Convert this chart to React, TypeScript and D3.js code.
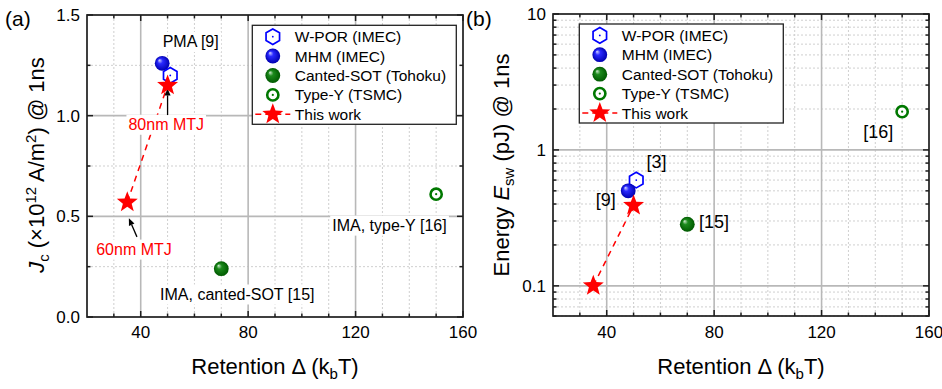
import React from 'react';
import * as d3 from 'd3';

// ---------- data ----------
const seriesNames = ['W-POR (IMEC)', 'MHM (IMEC)', 'Canted-SOT (Tohoku)', 'Type-Y (TSMC)', 'This work'];
const seriesTypes = ['hex', 'blueSphere', 'greenSphere', 'ring', 'star'];

const retentionWPOR = [51];
const jcWPOR = [1.2];
const energyWPOR = [0.6];

const retentionMHM = [48];
const jcMHM = [1.26];
const energyMHM = [0.5];

const retentionCanted = [70];
const jcCanted = [0.24];
const energyCanted = [0.284];

const retentionTypeY = [150];
const jcTypeY = [0.61];
const energyTypeY = [1.91];

const retentionThisWork = [35, 50];
const jcThisWork = [0.57, 1.15];
const energyThisWork = [0.1, 0.39];

const xTicks = [40, 80, 120, 160];
const xTickLabels = ['40', '80', '120', '160'];
const jcTicks = [0, 0.5, 1.0, 1.5];
const jcTickLabels = ['0.0', '0.5', '1.0', '1.5'];
const energyTicks = [0.1, 1, 10];
const energyTickLabels = ['0.1', '1', '10'];

// annotations (data coordinates)
const annotA = [
  { text: 'PMA [9]', x: 58.6, y: 1.34, color: '#000', anchor: 'middle' },
  { text: '80nm MTJ', x: 49.5, y: 0.929, color: '#ff0000', anchor: 'middle' },
  { text: '60nm MTJ', x: 37.5, y: 0.309, color: '#ff0000', anchor: 'middle' },
  { text: 'IMA, canted-SOT [15]', x: 47.2, y: 0.086, color: '#000', anchor: 'start' },
  { text: 'IMA, type-Y [16]', x: 111.3, y: 0.428, color: '#000', anchor: 'start' },
];
const arrowsA = [
  { x1: 50, y1: 1.003, x2: 50, y2: 1.135 },
  { x1: 38.6, y1: 0.398, x2: 35.6, y2: 0.49 },
];
const annotB = [
  { text: '[3]', x: 54.8, y: 0.737 },
  { text: '[9]', x: 35.9, y: 0.388 },
  { text: '[15]', x: 74.4, y: 0.267 },
  { text: '[16]', x: 135.5, y: 1.225 },
];

// ---------- helpers ----------
const FONT = "Arial, 'Liberation Sans', Helvetica, sans-serif";
const GRID_MAJOR = '#b8b8b8';
const GRID_MINOR = '#cfcfcf';
const FRAME = '#1e1e1e';

let ctx: CanvasRenderingContext2D | null = null;
function textWidth(t: string, size: number) {
  if (typeof document === 'undefined') return t.length * size * 0.55;
  if (!ctx) ctx = document.createElement('canvas').getContext('2d');
  if (!ctx) return t.length * size * 0.55;
  ctx.font = `${size}px Arial, 'Liberation Sans', sans-serif`;
  return ctx.measureText(t).width;
}

function starPath(r: number) {
  const pts: string[] = [];
  for (let i = 0; i < 10; i++) {
    const rad = i % 2 === 0 ? r : r * 0.42;
    const a = -Math.PI / 2 + (i * Math.PI) / 5;
    pts.push(`${(rad * Math.cos(a)).toFixed(2)},${(rad * Math.sin(a)).toFixed(2)}`);
  }
  return 'M' + pts.join('L') + 'Z';
}
function hexPath(r: number) {
  const pts: string[] = [];
  for (let i = 0; i < 6; i++) {
    const a = -Math.PI / 2 + (i * Math.PI) / 3;
    pts.push(`${(r * Math.cos(a)).toFixed(2)},${(r * Math.sin(a)).toFixed(2)}`);
  }
  return 'M' + pts.join('L') + 'Z';
}

function Marker({ type, x, y }: { type: string; x: number; y: number }) {
  const t = `translate(${x},${y})`;
  if (type === 'hex')
    return (
      <g transform={t}>
        <path d={hexPath(7.8)} fill="#fff" stroke="#0000ff" strokeWidth={1.7} />
        <circle r={0.9} fill="#0000ff" />
      </g>
    );
  if (type === 'blueSphere') return <circle transform={t} r={7.4} fill="url(#gBlue)" />;
  if (type === 'greenSphere') return <circle transform={t} r={7.4} fill="url(#gGreen)" />;
  if (type === 'ring')
    return (
      <g transform={t}>
        <circle r={5.6} fill="#fff" stroke="#007800" strokeWidth={2.6} />
        <circle r={1.1} fill="#007800" />
      </g>
    );
  return <path transform={t} d={starPath(11)} fill="#ff0000" />;
}

type Scale = (v: number) => number;

function Legend({ x, y }: { x: number; y: number }) {
  const rows = [11.4, 30.7, 50.2, 69.6, 89];
  return (
    <g transform={`translate(${x},${y})`}>
      <rect x={0} y={0} width={204} height={99} fill="#fff" stroke="#222" strokeWidth={1.3} />
      {seriesNames.map((name, i) => (
        <g key={name}>
          {seriesTypes[i] === 'star' && (
            <line x1={3} x2={38} y1={rows[i]} y2={rows[i]} stroke="#ff0000" strokeWidth={1.5} strokeDasharray="6,4" />
          )}
          <Marker type={seriesTypes[i]} x={20.5} y={rows[i]} />
          <text x={42.5} y={rows[i] + 5.6} fontSize={15.5} fontFamily={FONT} fill="#000">
            {name}
          </text>
        </g>
      ))}
    </g>
  );
}

function Frame({
  x, y, left, right, top, bottom, xMinor, yMajorGrid, yMinorGrid,
}: {
  x: Scale; y: Scale; left: number; right: number; top: number; bottom: number;
  xMinor: number[]; yMajorGrid: number[]; yMinorGrid: number[];
}) {
  const xMajorGrid = [40, 80, 120];
  return (
    <g>
      {xMinor.filter((v) => !xMajorGrid.includes(v)).map((v) => (
        <line key={'vx' + v} x1={x(v)} x2={x(v)} y1={top} y2={bottom} stroke={GRID_MINOR} strokeWidth={1} strokeDasharray="2,2" />
      ))}
      {yMinorGrid.map((v) => (
        <line key={'hy' + v} x1={left} x2={right} y1={y(v)} y2={y(v)} stroke={GRID_MINOR} strokeWidth={1} strokeDasharray="2,2" />
      ))}
      {xMajorGrid.map((v) => (
        <line key={'VX' + v} x1={x(v)} x2={x(v)} y1={top} y2={bottom} stroke={GRID_MAJOR} strokeWidth={1.6} />
      ))}
      {yMajorGrid.map((v) => (
        <line key={'HY' + v} x1={left} x2={right} y1={y(v)} y2={y(v)} stroke={GRID_MAJOR} strokeWidth={1.6} />
      ))}
    </g>
  );
}

function Ticks({
  x, y, left, right, top, bottom, xMajor, xMinor, yMajor, yMinor,
}: {
  x: Scale; y: Scale; left: number; right: number; top: number; bottom: number;
  xMajor: number[]; xMinor: number[]; yMajor: number[]; yMinor: number[];
}) {
  const M = 6, m = 3.5;
  const els: React.ReactNode[] = [];
  xMajor.forEach((v) => {
    els.push(<line key={'xb' + v} x1={x(v)} x2={x(v)} y1={bottom} y2={bottom - M} />);
    els.push(<line key={'xt' + v} x1={x(v)} x2={x(v)} y1={top} y2={top + M} />);
  });
  xMinor.forEach((v) => {
    els.push(<line key={'xbm' + v} x1={x(v)} x2={x(v)} y1={bottom} y2={bottom - m} />);
    els.push(<line key={'xtm' + v} x1={x(v)} x2={x(v)} y1={top} y2={top + m} />);
  });
  yMajor.forEach((v) => {
    els.push(<line key={'yl' + v} x1={left} x2={left + M} y1={y(v)} y2={y(v)} />);
    els.push(<line key={'yr' + v} x1={right} x2={right - M} y1={y(v)} y2={y(v)} />);
  });
  yMinor.forEach((v) => {
    els.push(<line key={'ylm' + v} x1={left} x2={left + m} y1={y(v)} y2={y(v)} />);
    els.push(<line key={'yrm' + v} x1={right} x2={right - m} y1={y(v)} y2={y(v)} />);
  });
  return (
    <g stroke={FRAME} strokeWidth={1.5}>
      {els}
      <rect x={left} y={top} width={right - left} height={bottom - top} fill="none" strokeWidth={1.7} />
    </g>
  );
}

function Arrow({ x1, y1, x2, y2 }: { x1: number; y1: number; x2: number; y2: number }) {
  const ang = Math.atan2(y2 - y1, x2 - x1);
  const L = 7, W = 3;
  const bx = x2 - L * Math.cos(ang), by = y2 - L * Math.sin(ang);
  const px = -Math.sin(ang) * W, py = Math.cos(ang) * W;
  return (
    <g>
      <line x1={x1} y1={y1} x2={bx} y2={by} stroke="#000" strokeWidth={1.3} />
      <path d={`M${x2},${y2}L${bx + px},${by + py}L${bx - px},${by - py}Z`} fill="#000" />
    </g>
  );
}

function XTitle({ cx, y }: { cx: number; y: number }) {
  return (
    <text x={cx} y={y} textAnchor="middle" fontSize={22} fontFamily={FONT} fill="#000">
      Retention Δ (k<tspan fontSize={15} dy={5}>b</tspan>
      <tspan dy={-5}>T)</tspan>
    </text>
  );
}

export default function App() {
  // Panel (a)
  const aL = 87, aR = 463, aT = 15, aB = 317;
  const xa = d3.scaleLinear().domain([20, 160]).range([aL, aR]);
  const ya = d3.scaleLinear().domain([0, 1.5]).range([aB, aT]);
  // Panel (b)
  const bL = 553, bR = 929, bT = 14, bB = 316;
  const xb = d3.scaleLinear().domain([20, 160]).range([bL, bR]);
  const yb = d3.scaleLog().domain([0.06, 10]).range([bB, bT]);

  const xMinor = d3.range(30, 160, 10).filter((v) => !xTicks.includes(v));
  const jcMinor = [0.25, 0.75, 1.25];
  const logMinor: number[] = [];
  [0.01, 0.1, 1].forEach((dec) => {
    for (let k = 2; k <= 9; k++) {
      const v = +(dec * k).toPrecision(3);
      if (v >= 0.06 && v < 10) logMinor.push(v);
    }
  });

  const lineA = d3.line<number>().x((_, i) => xa(retentionThisWork[i])).y((d) => ya(d));
  const lineB = d3.line<number>().x((_, i) => xb(retentionThisWork[i])).y((d) => yb(d));

  const annotSize = 16;

  return (
    <svg width={942} height={389} style={{ position: 'absolute', left: 0, top: 0, background: '#fff' }}>
      <defs>
        <radialGradient id="gBlue" cx="0.5" cy="0.5" r="0.5" fx="0.3" fy="0.28">
          <stop offset="0" stopColor="#d8d8ff" />
          <stop offset="0.35" stopColor="#2a2aff" />
          <stop offset="1" stopColor="#0000b0" />
        </radialGradient>
        <radialGradient id="gGreen" cx="0.5" cy="0.5" r="0.5" fx="0.3" fy="0.28">
          <stop offset="0" stopColor="#d4ecd4" />
          <stop offset="0.35" stopColor="#1c8a1c" />
          <stop offset="1" stopColor="#005a00" />
        </radialGradient>
      </defs>
      <rect x={0} y={0} width={942} height={389} fill="#fff" />

      {/* ---------- Panel (a) ---------- */}
      <Frame x={xa} y={ya} left={aL} right={aR} top={aT} bottom={aB} xMinor={xMinor}
        yMajorGrid={[0.5, 1.0]} yMinorGrid={jcMinor} />
      <path d={lineA(jcThisWork) || ''} fill="none" stroke="#ff0000" strokeWidth={1.5} strokeDasharray="6,5" />
      {annotA.map((a) => {
        const w = textWidth(a.text, annotSize);
        const px = xa(a.x), py = ya(a.y);
        const x0 = a.anchor === 'middle' ? px - w / 2 : px;
        return (
          <g key={a.text}>
            <rect x={x0 - 2} y={py - annotSize * 0.95} width={w + 4} height={annotSize * 1.25} fill="#fff" />
            <text x={px} y={py} textAnchor={a.anchor as any} fontSize={annotSize} fontFamily={FONT} fill={a.color}>
              {a.text}
            </text>
          </g>
        );
      })}
      {arrowsA.map((a, i) => (
        <Arrow key={i} x1={xa(a.x1)} y1={ya(a.y1)} x2={xa(a.x2)} y2={ya(a.y2)} />
      ))}
      {retentionCanted.map((r, i) => <Marker key={'ca' + i} type="greenSphere" x={xa(r)} y={ya(jcCanted[i])} />)}
      {retentionTypeY.map((r, i) => <Marker key={'ta' + i} type="ring" x={xa(r)} y={ya(jcTypeY[i])} />)}
      {retentionMHM.map((r, i) => <Marker key={'ma' + i} type="blueSphere" x={xa(r)} y={ya(jcMHM[i])} />)}
      {retentionWPOR.map((r, i) => <Marker key={'wa' + i} type="hex" x={xa(r)} y={ya(jcWPOR[i])} />)}
      {retentionThisWork.map((r, i) => <Marker key={'sa' + i} type="star" x={xa(r)} y={ya(jcThisWork[i])} />)}
      <Legend x={aL + 165.3} y={aT + 10.3} />
      <Ticks x={xa} y={ya} left={aL} right={aR} top={aT} bottom={aB} xMajor={xTicks} xMinor={xMinor}
        yMajor={jcTicks} yMinor={jcMinor} />
      {xTicks.map((v, i) => (
        <text key={'xla' + v} x={xa(v)} y={338} textAnchor="middle" fontSize={17} fontFamily={FONT}>{xTickLabels[i]}</text>
      ))}
      {jcTicks.map((v, i) => (
        <text key={'yla' + v} x={aL - 7} y={ya(v) + 6} textAnchor="end" fontSize={17} fontFamily={FONT}>{jcTickLabels[i]}</text>
      ))}
      <XTitle cx={(aL + aR) / 2} y={374} />
      <text transform="translate(44,165) rotate(-90)" textAnchor="middle" fontSize={22} fontFamily={FONT} fill="#000">
        <tspan fontStyle="italic">J</tspan>
        <tspan fontSize={15} dy={5}>c</tspan>
        <tspan dy={-5}> (×10</tspan>
        <tspan fontSize={15} dy={-8}>12</tspan>
        <tspan dy={8}> A/m</tspan>
        <tspan fontSize={15} dy={-8}>2</tspan>
        <tspan dy={8}>) @ 1ns</tspan>
      </text>
      <text x={5} y={26} fontSize={21} fontFamily={FONT}>(a)</text>

      {/* ---------- Panel (b) ---------- */}
      <Frame x={xb} y={yb} left={bL} right={bR} top={bT} bottom={bB} xMinor={xMinor}
        yMajorGrid={[0.1, 1]} yMinorGrid={logMinor} />
      <path d={lineB(energyThisWork) || ''} fill="none" stroke="#ff0000" strokeWidth={1.5} strokeDasharray="6,5" />
      {annotB.map((a) => (
        <text key={a.text} x={xb(a.x)} y={yb(a.y)} fontSize={18} fontFamily={FONT} fill="#000">{a.text}</text>
      ))}
      {retentionCanted.map((r, i) => <Marker key={'cb' + i} type="greenSphere" x={xb(r)} y={yb(energyCanted[i])} />)}
      {retentionTypeY.map((r, i) => <Marker key={'tb' + i} type="ring" x={xb(r)} y={yb(energyTypeY[i])} />)}
      {retentionWPOR.map((r, i) => <Marker key={'wb' + i} type="hex" x={xb(r)} y={yb(energyWPOR[i])} />)}
      {retentionMHM.map((r, i) => <Marker key={'mb' + i} type="blueSphere" x={xb(r)} y={yb(energyMHM[i])} />)}
      {retentionThisWork.map((r, i) => <Marker key={'sb' + i} type="star" x={xb(r)} y={yb(energyThisWork[i])} />)}
      <Legend x={bL + 26.3} y={bT + 10} />
      <Ticks x={xb} y={yb} left={bL} right={bR} top={bT} bottom={bB} xMajor={xTicks} xMinor={xMinor}
        yMajor={energyTicks} yMinor={logMinor} />
      {xTicks.map((v, i) => (
        <text key={'xlb' + v} x={xb(v)} y={338} textAnchor="middle" fontSize={17} fontFamily={FONT}>{xTickLabels[i]}</text>
      ))}
      {energyTicks.map((v, i) => (
        <text key={'ylb' + v} x={bL - 7} y={yb(v) + 6} textAnchor="end" fontSize={17} fontFamily={FONT}>{energyTickLabels[i]}</text>
      ))}
      <XTitle cx={(bL + bR) / 2} y={374} />
      <text transform="translate(509,165) rotate(-90)" textAnchor="middle" fontSize={22} fontFamily={FONT} fill="#000">
        Energy <tspan fontStyle="italic">E</tspan>
        <tspan fontSize={15} dy={5}>sw</tspan>
        <tspan dy={-5}> (pJ) @ 1ns</tspan>
      </text>
      <text x={466} y={26} fontSize={21} fontFamily={FONT}>(b)</text>
    </svg>
  );
}
